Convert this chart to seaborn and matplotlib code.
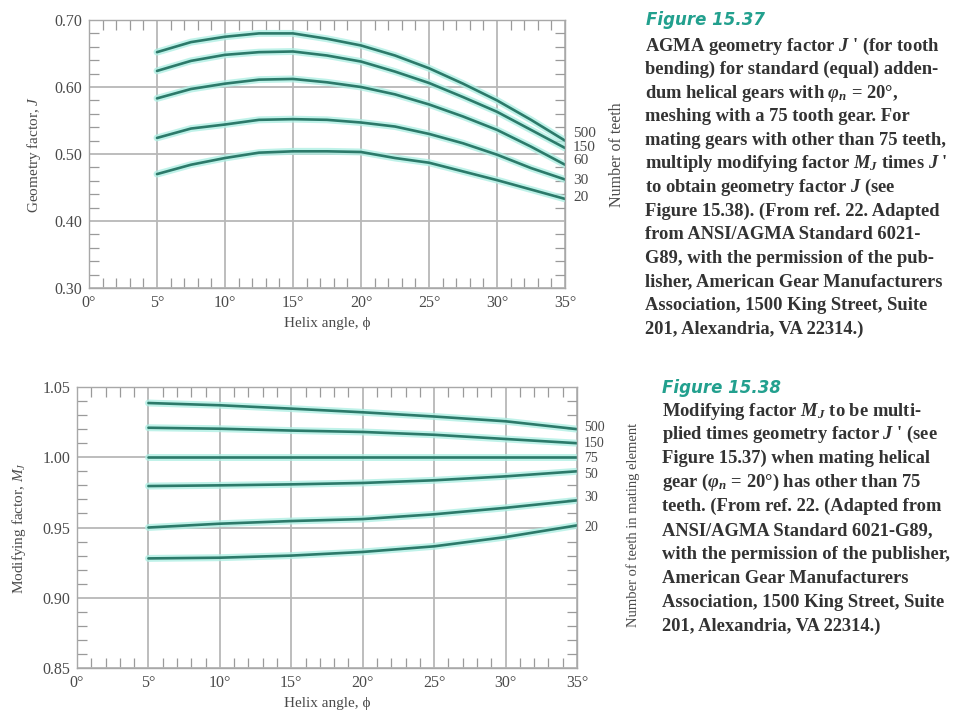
import numpy as np
import pandas as pd
import matplotlib
matplotlib.use("Agg")
import matplotlib.pyplot as plt
import seaborn as sns
from matplotlib.ticker import MultipleLocator, FixedLocator

# ---------------- data ----------------
# Figure 15.37 : geometry factor J' vs helix angle
helix_top = [5, 7.5, 10, 12.5, 15, 17.5, 20, 22.5, 25, 27.5, 30, 32.5, 35]
teeth_top = ["500", "150", "60", "30", "20"]
j_500 = [0.652, 0.667, 0.675, 0.680, 0.680, 0.672, 0.662, 0.647, 0.628, 0.605, 0.580, 0.551, 0.520]
j_150 = [0.624, 0.639, 0.648, 0.652, 0.653, 0.647, 0.638, 0.623, 0.606, 0.585, 0.563, 0.536, 0.509]
j_60 = [0.583, 0.597, 0.605, 0.611, 0.612, 0.607, 0.600, 0.589, 0.574, 0.556, 0.536, 0.511, 0.484]
j_30 = [0.524, 0.538, 0.544, 0.551, 0.552, 0.551, 0.547, 0.541, 0.530, 0.516, 0.499, 0.479, 0.462]
j_20 = [0.470, 0.484, 0.494, 0.502, 0.504, 0.504, 0.503, 0.494, 0.487, 0.474, 0.461, 0.447, 0.433]

# Figure 15.38 : modifying factor M_J vs helix angle
helix_bot = [5, 10, 15, 20, 25, 30, 35]
teeth_bot = ["500", "150", "75", "50", "30", "20"]
m_500 = [1.0386, 1.0370, 1.0346, 1.0320, 1.0290, 1.0256, 1.0200]
m_150 = [1.0210, 1.0203, 1.0190, 1.0180, 1.0160, 1.0130, 1.0100]
m_75 = [1.0000, 1.0000, 1.0000, 1.0000, 1.0000, 1.0000, 1.0000]
m_50 = [0.9795, 0.9800, 0.9807, 0.9817, 0.9836, 0.9864, 0.9900]
m_30 = [0.9500, 0.9527, 0.9546, 0.9560, 0.9594, 0.9640, 0.9693]
m_20 = [0.9280, 0.9285, 0.9300, 0.9326, 0.9366, 0.9432, 0.9515]

x_ticks = [0, 5, 10, 15, 20, 25, 30, 35]
x_ticklabels = ["0°", "5°", "10°", "15°", "20°", "25°", "30°", "35°"]
top_yticks = [0.30, 0.40, 0.50, 0.60, 0.70]
top_yticklabels = ["0.30", "0.40", "0.50", "0.60", "0.70"]
bot_yticks = [0.85, 0.90, 0.95, 1.00, 1.05]
bot_yticklabels = ["0.85", "0.90", "0.95", "1.00", "1.05"]

caption1_title = "Figure 15.37"
caption1 = [
    r"AGMA geometry factor $\mathbf{J}$ ' (for tooth",
    "bending) for standard (equal) adden-",
    r"dum helical gears with $\mathbf{φ_n}$ = 20°,",
    "meshing with a 75 tooth gear. For",
    "mating gears with other than 75 teeth,",
    r"multiply modifying factor $\mathbf{M_J}$ times $\mathbf{J}$ '",
    r"to obtain geometry factor $\mathbf{J}$ (see",
    "Figure 15.38). (From ref. 22. Adapted",
    "from ANSI/AGMA Standard 6021-",
    "G89, with the permission of the pub-",
    "lisher, American Gear Manufacturers",
    "Association, 1500 King Street, Suite",
    "201, Alexandria, VA 22314.)",
]
caption2_title = "Figure 15.38"
caption2 = [
    r"Modifying factor $\mathbf{M_J}$ to be multi-",
    r"plied times geometry factor $\mathbf{J}$ ' (see",
    "Figure 15.37) when mating helical",
    r"gear ($\mathbf{φ_n}$ = 20°) has other than 75",
    "teeth. (From ref. 22. (Adapted from",
    "ANSI/AGMA Standard 6021-G89,",
    "with the permission of the publisher,",
    "American Gear Manufacturers",
    "Association, 1500 King Street, Suite",
    "201, Alexandria, VA 22314.)",
]

# ---------------- style ----------------
sns.set_theme(style="white")
plt.rcParams["font.family"] = ["Liberation Serif", "DejaVu Serif"]
plt.rcParams["mathtext.fontset"] = "custom"
plt.rcParams["mathtext.rm"] = "Liberation Serif"
plt.rcParams["mathtext.it"] = "Liberation Serif:italic"
plt.rcParams["mathtext.bf"] = "Liberation Serif:bold:italic"

W, H = 961, 719
TXT = "#4a4a4a"
CORE = "#2c7a6a"
GLOW = "#b0efe4"
GRID = "#b8b8b8"

fig = plt.figure(figsize=(W / 100, H / 100), dpi=100)
fig.patch.set_facecolor("white")


def fx(px):
    return px / W


def fy(py):
    return 1 - py / H


def style_axes(ax, ymin, ymax, yminor, yticks, yticklabels):
    ax.set_xlim(0, 35)
    ax.set_ylim(ymin, ymax)
    ax.xaxis.set_major_locator(FixedLocator(x_ticks))
    ax.set_xticklabels(x_ticklabels)
    ax.yaxis.set_major_locator(FixedLocator(yticks))
    ax.set_yticklabels(yticklabels)
    ax.xaxis.set_minor_locator(MultipleLocator(1))
    ax.yaxis.set_minor_locator(MultipleLocator(yminor))
    ax.grid(True, which="major", color=GRID, lw=1.3)
    ax.tick_params(which="both", direction="in", top=True, right=True,
                   bottom=True, left=True, color="#9a9a9a")
    ax.tick_params(which="minor", length=7, width=0.9)
    ax.tick_params(which="major", length=0, labelsize=11.5, labelcolor=TXT, pad=5)
    for s in ax.spines.values():
        s.set_color("#a8a8a8")
        s.set_linewidth(1.0)
    ax.set_axisbelow(True)


def draw_curves(ax, xs, series):
    for ys in series:
        sns.lineplot(x=xs, y=ys, ax=ax, color=GLOW, lw=5.0, alpha=0.8, legend=False)
    for ys in series:
        sns.lineplot(x=xs, y=ys, ax=ax, color=CORE, lw=1.9, legend=False)


# ---- top axes ----
ax1 = fig.add_axes([fx(89), fy(288), (565 - 89) / W, (288 - 20) / H])
top_series = [j_500, j_150, j_60, j_30, j_20]
draw_curves(ax1, helix_top, top_series)
style_axes(ax1, 0.30, 0.70, 0.02, top_yticks, top_yticklabels)
ax1.set_xlabel("Helix angle, ϕ", fontsize=11, color=TXT, labelpad=4)
ax1.set_ylabel(r"Geometry factor, $\mathit{J}$", fontsize=11, color=TXT, labelpad=8)
top_label_shift = [0.011, 0.0, 0.007, -0.002, 0.002]
for name, ys, d in zip(teeth_top, top_series, top_label_shift):
    ax1.text(35.6, ys[-1] + d, name, fontsize=11, color=TXT, va="center", ha="left",
             clip_on=False)
fig.text(fx(617), fy(155), "Number of teeth", rotation=90, fontsize=11.5,
         color=TXT, ha="center", va="center")

# ---- bottom axes ----
ax2 = fig.add_axes([fx(77), fy(668), (577 - 77) / W, (668 - 387) / H])
bot_series = [m_500, m_150, m_75, m_50, m_30, m_20]
draw_curves(ax2, helix_bot, bot_series)
style_axes(ax2, 0.85, 1.05, 0.01, bot_yticks, bot_yticklabels)
ax2.set_xlabel("Helix angle, ϕ", fontsize=11, color=TXT, labelpad=4)
ax2.set_ylabel(r"Modifying factor, $\mathit{M_J}$", fontsize=11, color=TXT, labelpad=10)
bot_label_shift = [0.0012, 0.0001, -0.0012, -0.0022, 0.0017, -0.0015]
for name, ys, d in zip(teeth_bot, bot_series, bot_label_shift):
    ax2.text(35.5, ys[-1] + d, name, fontsize=10, color=TXT, va="center", ha="left",
             clip_on=False)
fig.text(fx(633), fy(525), "Number of teeth in mating element", rotation=90,
         fontsize=10.5, color=TXT, ha="center", va="center")

# ---- captions ----
TEAL = "#22a08e"
CAP = "#333333"
fig.text(fx(646), fy(20), caption1_title, fontsize=12, color=TEAL,
         family="DejaVu Sans", weight="bold", style="italic", va="center", ha="left")
for i, line in enumerate(caption1):
    fig.text(fx(645), fy(46 + i * 23.6), line, fontsize=13.3, color=CAP,
             weight="bold", va="center", ha="left")

fig.text(fx(662), fy(388), caption2_title, fontsize=12, color=TEAL,
         family="DejaVu Sans", weight="bold", style="italic", va="center", ha="left")
for i, line in enumerate(caption2):
    fig.text(fx(662), fy(411 + i * 23.9), line, fontsize=13.3, color=CAP,
             weight="bold", va="center", ha="left")

fig.savefig("out.png", dpi=100, facecolor="white")
